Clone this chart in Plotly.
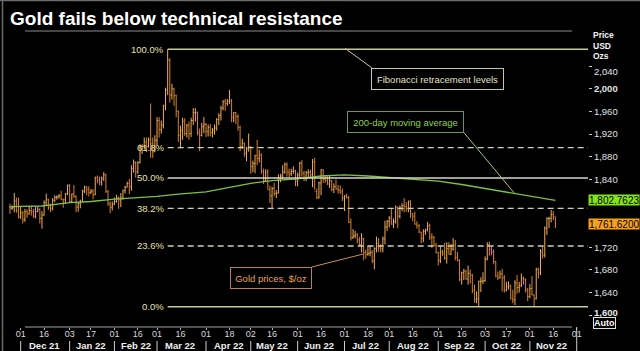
import plotly.graph_objects as go
import pandas as pd

# ---------------- data ----------------
start_date = "2021-11-24"   # first daily bar; bars run on weekdays

opens = [
    1791, 1789, 1790, 1802, 1785,
    1775, 1781, 1769, 1783, 1779, 1785, 1783, 1775, 1783, 1787, 1771, 1777, 1799, 1804, 1791, 1789, 1803, 1808, 1809, 1811, 1805, 1804, 1815,
    1829, 1801, 1814, 1810, 1791, 1797, 1801, 1819, 1826, 1822, 1817, 1819, 1813, 1843, 1839, 1835, 1842, 1848, 1819, 1797, 1791,
    1796, 1801, 1807, 1804, 1807, 1820, 1826, 1833, 1827, 1859, 1870, 1853, 1870, 1898, 1898, 1906, 1898, 1910, 1903, 1889,
    1909, 1944, 1928, 1936, 1970, 1998, 2051, 1989, 2000, 1988, 1960, 1918, 1927, 1943, 1921, 1936, 1921, 1944, 1958, 1958, 1923, 1918, 1933,
    1937, 1925, 1932, 1923, 1926, 1931, 1946, 1953, 1966, 1978, 1974, 1978, 1979, 1950, 1958, 1951, 1932, 1898, 1904, 1886, 1894,
    1897, 1863, 1868, 1882, 1877, 1883, 1854, 1838, 1853, 1822, 1811, 1824, 1815, 1816, 1842, 1846, 1853, 1866, 1853, 1850, 1854, 1855,
    1837, 1848, 1869, 1851, 1841, 1852, 1853, 1848, 1871, 1819, 1808, 1834, 1857, 1840, 1838, 1832, 1838, 1822, 1827, 1823, 1821, 1818,
    1807, 1811, 1808, 1764, 1737, 1740, 1742, 1733, 1725, 1735, 1711, 1708, 1709, 1711, 1696, 1718, 1727, 1719, 1717, 1735, 1756,
    1766, 1772, 1761, 1765, 1791, 1775, 1789, 1794, 1792, 1789, 1802, 1779, 1775, 1761, 1758, 1747, 1736, 1748, 1751, 1758, 1738, 1738, 1723,
    1711, 1697, 1712, 1710, 1701, 1718, 1708, 1717, 1724, 1702, 1697, 1664, 1675, 1678, 1664, 1674, 1671, 1644, 1627, 1629, 1660, 1660,
    1661, 1699, 1725, 1716, 1712, 1695, 1669, 1666, 1673, 1666, 1644, 1650, 1652, 1629, 1627, 1657, 1649, 1652, 1665, 1663, 1645,
    1633, 1647, 1636, 1629, 1681, 1676, 1712, 1706, 1754, 1771, 1771, 1778, 1774,
]
highs = [
    1797, 1794, 1816, 1808, 1808,
    1792, 1784, 1788, 1787, 1792, 1793, 1788, 1791, 1792, 1789, 1784, 1803, 1815, 1806, 1797, 1807, 1812, 1812, 1814, 1820, 1806, 1816, 1831,
    1832, 1815, 1830, 1812, 1799, 1804, 1822, 1829, 1828, 1828, 1823, 1823, 1845, 1847, 1845, 1845, 1853, 1850, 1821, 1801, 1801,
    1808, 1813, 1810, 1816, 1822, 1829, 1836, 1841, 1865, 1875, 1872, 1872, 1902, 1902, 1914, 1914, 1914, 1974, 1914, 1918,
    1950, 1950, 1944, 1972, 2002, 2070, 2054, 2009, 2002, 1990, 1962, 1935, 1949, 1948, 1938, 1942, 1949, 1966, 1966, 1960, 1930, 1940, 1950,
    1940, 1937, 1938, 1931, 1937, 1948, 1957, 1970, 1980, 1982, 1982, 1998, 1982, 1959, 1959, 1955, 1935, 1912, 1905, 1897, 1921,
    1899, 1873, 1883, 1910, 1892, 1886, 1859, 1858, 1858, 1829, 1827, 1834, 1821, 1849, 1850, 1865, 1870, 1870, 1859, 1859, 1863, 1857,
    1852, 1871, 1874, 1855, 1855, 1858, 1857, 1876, 1878, 1824, 1836, 1858, 1858, 1846, 1847, 1847, 1839, 1833, 1840, 1830, 1829, 1824,
    1812, 1815, 1811, 1771, 1752, 1749, 1745, 1738, 1745, 1737, 1716, 1723, 1723, 1715, 1720, 1739, 1736, 1726, 1739, 1767, 1768,
    1775, 1788, 1771, 1794, 1792, 1794, 1798, 1807, 1800, 1802, 1803, 1781, 1783, 1766, 1761, 1747, 1752, 1753, 1765, 1762, 1745, 1740, 1728,
    1712, 1722, 1716, 1728, 1729, 1729, 1726, 1736, 1733, 1712, 1699, 1677, 1682, 1680, 1688, 1681, 1673, 1654, 1642, 1661, 1667, 1676,
    1704, 1729, 1730, 1721, 1716, 1696, 1677, 1679, 1682, 1671, 1659, 1660, 1654, 1645, 1662, 1671, 1659, 1674, 1668, 1665, 1648,
    1655, 1669, 1637, 1684, 1684, 1717, 1722, 1757, 1773, 1774, 1786, 1784, 1774,
]
lows = [
    1779, 1786, 1782, 1781, 1771,
    1770, 1762, 1765, 1772, 1778, 1776, 1772, 1771, 1782, 1762, 1753, 1776, 1794, 1786, 1782, 1785, 1800, 1804, 1806, 1803, 1790, 1797, 1812,
    1799, 1798, 1807, 1782, 1783, 1789, 1800, 1816, 1812, 1810, 1814, 1805, 1812, 1833, 1830, 1829, 1837, 1816, 1793, 1780, 1785,
    1795, 1799, 1788, 1791, 1804, 1815, 1826, 1814, 1820, 1852, 1843, 1850, 1868, 1885, 1894, 1888, 1896, 1878, 1878, 1888,
    1900, 1914, 1921, 1930, 1962, 1989, 1976, 1981, 1970, 1950, 1906, 1895, 1910, 1917, 1914, 1910, 1915, 1936, 1942, 1918, 1890, 1916, 1922,
    1915, 1916, 1916, 1914, 1919, 1926, 1936, 1944, 1962, 1961, 1970, 1973, 1941, 1941, 1938, 1926, 1890, 1894, 1880, 1872, 1889,
    1850, 1853, 1851, 1865, 1870, 1850, 1832, 1836, 1822, 1798, 1787, 1810, 1807, 1815, 1835, 1841, 1850, 1845, 1843, 1846, 1850, 1828,
    1828, 1843, 1845, 1837, 1837, 1844, 1842, 1826, 1822, 1805, 1806, 1812, 1834, 1834, 1830, 1825, 1819, 1816, 1822, 1815, 1814, 1802,
    1784, 1806, 1763, 1732, 1735, 1736, 1727, 1723, 1711, 1697, 1700, 1705, 1704, 1692, 1681, 1711, 1712, 1711, 1711, 1725, 1749,
    1755, 1760, 1754, 1762, 1754, 1771, 1784, 1782, 1783, 1782, 1772, 1766, 1760, 1753, 1745, 1727, 1729, 1742, 1748, 1733, 1719, 1722, 1709,
    1688, 1692, 1705, 1698, 1691, 1707, 1706, 1714, 1697, 1695, 1660, 1654, 1662, 1663, 1654, 1656, 1639, 1622, 1621, 1615, 1641, 1655,
    1659, 1697, 1705, 1706, 1690, 1667, 1662, 1665, 1642, 1640, 1642, 1645, 1628, 1621, 1618, 1638, 1640, 1650, 1654, 1640, 1625,
    1630, 1635, 1616, 1628, 1665, 1671, 1700, 1702, 1742, 1754, 1764, 1768, 1754,
]
closes = [
    1789, 1790, 1802, 1785, 1775,
    1781, 1769, 1783, 1779, 1785, 1783, 1775, 1783, 1787, 1771, 1777, 1799, 1804, 1791, 1789, 1803, 1808, 1809, 1811, 1805, 1804, 1815, 1829,
    1801, 1814, 1810, 1791, 1797, 1801, 1819, 1826, 1822, 1817, 1819, 1813, 1843, 1839, 1835, 1842, 1848, 1819, 1797, 1791, 1796,
    1801, 1807, 1804, 1807, 1820, 1826, 1833, 1827, 1859, 1870, 1853, 1870, 1898, 1898, 1906, 1898, 1910, 1903, 1889, 1909,
    1944, 1928, 1936, 1970, 1998, 2051, 1989, 2000, 1988, 1960, 1918, 1927, 1943, 1921, 1936, 1921, 1944, 1958, 1958, 1923, 1918, 1933, 1937,
    1925, 1932, 1923, 1926, 1931, 1946, 1953, 1966, 1978, 1974, 1978, 1979, 1950, 1958, 1951, 1932, 1898, 1904, 1886, 1894, 1897,
    1863, 1868, 1882, 1877, 1883, 1854, 1838, 1853, 1822, 1811, 1824, 1815, 1816, 1842, 1846, 1853, 1866, 1853, 1850, 1854, 1855, 1837,
    1848, 1869, 1851, 1841, 1852, 1853, 1848, 1871, 1819, 1808, 1834, 1857, 1840, 1838, 1832, 1838, 1822, 1827, 1823, 1821, 1818, 1807,
    1811, 1808, 1764, 1737, 1740, 1742, 1733, 1725, 1735, 1711, 1708, 1709, 1711, 1696, 1718, 1727, 1719, 1717, 1735, 1756, 1766,
    1772, 1761, 1765, 1791, 1775, 1789, 1794, 1792, 1789, 1802, 1779, 1775, 1761, 1758, 1747, 1736, 1748, 1751, 1758, 1738, 1738, 1723, 1711,
    1697, 1712, 1710, 1701, 1718, 1708, 1717, 1724, 1702, 1697, 1664, 1675, 1678, 1664, 1674, 1671, 1644, 1627, 1629, 1660, 1660, 1661,
    1699, 1725, 1716, 1712, 1695, 1669, 1666, 1673, 1666, 1644, 1650, 1652, 1629, 1627, 1657, 1649, 1652, 1665, 1663, 1645, 1633,
    1647, 1636, 1629, 1681, 1676, 1712, 1706, 1754, 1771, 1771, 1778, 1774, 1761.62,
]

ma_dates = ["2021-11-24", "2021-12-01", "2021-12-15", "2022-01-03", "2022-01-17", "2022-02-01",
            "2022-02-15", "2022-03-01", "2022-03-15", "2022-04-01", "2022-04-18", "2022-05-02",
            "2022-05-16", "2022-06-01", "2022-06-16", "2022-07-01", "2022-07-18", "2022-08-01",
            "2022-08-16", "2022-09-01", "2022-09-16", "2022-10-03", "2022-10-17", "2022-11-01",
            "2022-11-17"]
ma_values = [1792, 1792, 1793, 1799, 1801, 1805, 1807, 1810, 1814, 1818, 1826, 1833,
             1838, 1841, 1846, 1848, 1846, 1843, 1840, 1837, 1831, 1824, 1818, 1810,
             1802.7623]

tick_dates = ["2021-12-01", "2021-12-16", "2022-01-03", "2022-01-17", "2022-02-01", "2022-02-16",
              "2022-03-01", "2022-03-16", "2022-04-01", "2022-04-18", "2022-05-02", "2022-05-16",
              "2022-06-01", "2022-06-16", "2022-07-01", "2022-07-18", "2022-08-01", "2022-08-16",
              "2022-09-01", "2022-09-16", "2022-10-03", "2022-10-17", "2022-11-01", "2022-11-16",
              "2022-12-01"]
month_labels = ["Dec 21", "Jan 22", "Feb 22", "Mar 22", "Apr 22", "May 22",
                "Jun 22", "Jul 22", "Aug 22", "Sep 22", "Oct 22", "Nov 22"]
month_mids = ["2021-12-16", "2022-01-17", "2022-02-15", "2022-03-16", "2022-04-18", "2022-05-16",
              "2022-06-15", "2022-07-15", "2022-08-16", "2022-09-15", "2022-10-17", "2022-11-15"]
month_starts = ["2021-12-01", "2022-01-03", "2022-02-01", "2022-03-01", "2022-04-01", "2022-05-02",
                "2022-06-01", "2022-07-01", "2022-08-01", "2022-09-01", "2022-10-03", "2022-11-01",
                "2022-12-01"]

fib_ratios = [1.0, 0.618, 0.5, 0.382, 0.236, 0.0]
fib_labels = ["100.0%", "61.8%", "50.0%", "38.2%", "23.6%", "0.0%"]
y_ticks = [1600, 1640, 1680, 1720, 1840, 1880, 1920, 1960, 2000, 2040]
bold_ticks = [1600, 2000]
shifted_ticks = {2040: -5, 1600: 3}   # labels nudged off their tick (as in the reference)

# ---------------- figure ----------------
W, H = 640, 351
L, R, T, B = 3, 588, 36, 327
x_range = ["2021-11-18 17:00", "2022-12-08 07:00"]
y_range = [1579.2, 2093.4]
FONT = "Liberation Sans"


def pxx(x):
    return (x - L) / (R - L)


def pxy(y):
    return (B - y) / (B - T)


dates = pd.bdate_range(start_date, periods=len(closes))

fig = go.Figure()
fig.add_trace(go.Ohlc(
    x=dates, open=opens, high=highs, low=lows, close=closes,
    increasing=dict(line=dict(color="#f0ad5c", width=1)),
    decreasing=dict(line=dict(color="#d9822b", width=1)),
    tickwidth=0.4, showlegend=False, hoverinfo="skip"))
fig.add_trace(go.Scatter(
    x=pd.to_datetime(ma_dates), y=ma_values, mode="lines",
    line=dict(color="#7cc242", width=1.3), showlegend=False, hoverinfo="skip"))

shapes = []
annotations = []

# Fibonacci levels
hi = max(highs)
lo = min(lows)
hi_date = dates[highs.index(hi)]
fib_styles = {1.0: ("#c9c99a", "solid"), 0.0: ("#c9c99a", "solid"), 0.5: ("#d6d6c6", "solid")}
for r, lab in zip(fib_ratios, fib_labels):
    lvl = lo + r * (hi - lo)
    col, dash = fib_styles.get(r, ("#cfcfb4", "6px,4px"))
    shapes.append(dict(type="line", xref="x", yref="y", x0=hi_date, x1=x_range[1],
                       y0=lvl, y1=lvl, line=dict(color=col, width=1.4, dash=dash)))
    annotations.append(dict(xref="x", yref="y", x=hi_date, y=lvl, text=lab, showarrow=False,
                            xanchor="right", yanchor="middle", xshift=-2,
                            font=dict(family=FONT, size=9.5, color="#e6e2aa")))

# frame and rules
shapes += [
    dict(type="line", xref="paper", yref="paper", x0=pxx(25), x1=pxx(572), y0=pxy(31), y1=pxy(31),
         line=dict(color="#8c8c8c", width=1)),
    dict(type="line", xref="paper", yref="paper", x0=pxx(25), x1=pxx(572), y0=pxy(327), y1=pxy(327),
         line=dict(color="#a0a0a0", width=1)),
    dict(type="line", xref="paper", yref="paper", x0=pxx(2.5), x1=pxx(2.5), y0=pxy(0), y1=pxy(351),
         line=dict(color="#6a6a6a", width=1.5)),
    dict(type="line", xref="paper", yref="paper", x0=pxx(0), x1=pxx(640), y0=pxy(0.5), y1=pxy(0.5),
         line=dict(color="#6a6a6a", width=1.5)),
]

# month separators and labels
for i, d in enumerate(month_starts):
    top = 327 if i == len(month_starts) - 1 else 341
    shapes.append(dict(type="line", xref="x", yref="paper", x0=d, x1=d, y0=pxy(top), y1=pxy(351),
                       line=dict(color="#d0d0d0", width=1)))
for lab, d in zip(month_labels, month_mids):
    annotations.append(dict(xref="x", yref="paper", x=d, y=pxy(345.5), text="<b>" + lab + "</b>",
                            showarrow=False, xanchor="center", yanchor="middle",
                            font=dict(family=FONT, size=9.5, color="#f0f0f0")))

# callout boxes
boxes = [
    ("Fibonacci retracement levels", 437.3, 78.5, 125, "#e2e2c4", "#c8c8a0"),
    ("200-day moving average", 405, 122, 109, "#8fd052", "#679c3c"),
    ("Gold prices, $/oz", 271.2, 278.3, 74, "#eaa050", "#b8824a"),
]
for txt, cx, cy, w, tc, bc in boxes:
    annotations.append(dict(xref="paper", yref="paper", x=pxx(cx), y=pxy(cy), text=txt,
                            showarrow=False, xanchor="center", yanchor="middle",
                            width=w, height=14, borderpad=3, bordercolor=bc, borderwidth=1,
                            bgcolor="#000000",
                            font=dict(family=FONT, size=9.5, color=tc)))
connectors = [
    (371.7, 67.7, 345, 48.3, "#c8c8a0"),
    (464, 132.7, 514, 192.7, "#a8c878"),
    (311.7, 267, 363.3, 254, "#c89050"),
]
for x0, y0, x1, y1, c in connectors:
    shapes.append(dict(type="line", xref="paper", yref="paper", x0=pxx(x0), y0=pxy(y0),
                       x1=pxx(x1), y1=pxy(y1), line=dict(color=c, width=1)))

# title
annotations.append(dict(xref="paper", yref="paper", x=pxx(8), y=pxy(18),
                        text="<b>Gold fails below technical resistance</b>", showarrow=False,
                        xanchor="left", yanchor="middle",
                        font=dict(family=FONT, size=19, color="#ffffff")))

# axis header
for txt, yy in [("Price", 35), ("USD", 46), ("Ozs", 56.5)]:
    annotations.append(dict(xref="paper", yref="paper", x=pxx(591), y=pxy(yy), text="<b>" + txt + "</b>",
                            showarrow=False, xanchor="left", yanchor="middle",
                            font=dict(family=FONT, size=8.5, color="#f4f4f4")))

# y tick labels that sit off their tick
for v, dy in shifted_ticks.items():
    t = f"{v:,}"
    if v in bold_ticks:
        t = "<b>" + t + "</b>"
    annotations.append(dict(xref="paper", yref="y", x=1.0, y=v, text=t, showarrow=False,
                            xanchor="left", yanchor="middle", xshift=4, yshift=dy,
                            font=dict(family=FONT, size=9.5, color="#e8e8e8")))

# last value tags
ma_last = ma_values[-1]
close_last = closes[-1]
for val, bg in [(ma_last, "#84e41a"), (close_last, "#f7a11c")]:
    annotations.append(dict(xref="paper", yref="y", x=1.0, y=val, text=f"{val:,.4f}",
                            showarrow=False, xanchor="left", yanchor="middle", align="left",
                            width=50, height=10, borderpad=0, bgcolor=bg,
                            font=dict(family=FONT, size=10, color="#000000")))

# Auto box
annotations.append(dict(xref="paper", yref="paper", x=pxx(604), y=pxy(323), text="<b>Auto</b>",
                        showarrow=False, xanchor="center", yanchor="middle",
                        borderpad=0, bordercolor="#e0e0e0", borderwidth=1,
                        font=dict(family=FONT, size=9, color="#ffffff")))

tick_text = [d[-2:] for d in tick_dates]
y_text = []
for v in y_ticks:
    if v in shifted_ticks:
        y_text.append("")
    elif v in bold_ticks:
        y_text.append("<b>" + f"{v:,}" + "</b>")
    else:
        y_text.append(f"{v:,}")

fig.update_layout(
    width=W, height=H,
    margin=dict(l=L, r=W - R, t=T, b=H - B, pad=0),
    paper_bgcolor="#000000", plot_bgcolor="#000000",
    showlegend=False,
    xaxis=dict(type="date", range=x_range, rangebreaks=[dict(bounds=["sat", "mon"])],
               rangeslider=dict(visible=False), showgrid=False, zeroline=False, showline=False,
               tickmode="array", tickvals=tick_dates, ticktext=tick_text,
               ticks="outside", ticklen=2, tickcolor="#b0b0b0", ticklabelstandoff=-4,
               tickfont=dict(family=FONT, size=9, color="#d8d8d8")),
    yaxis=dict(range=y_range, side="right", showgrid=False, zeroline=False, showline=False,
               tickmode="array", tickvals=y_ticks, ticktext=y_text,
               ticks="outside", ticklen=3, tickcolor="#c8c8c8",
               tickfont=dict(family=FONT, size=9.5, color="#e0e0e0")),
    shapes=shapes, annotations=annotations,
)

fig.write_html("out.html")
